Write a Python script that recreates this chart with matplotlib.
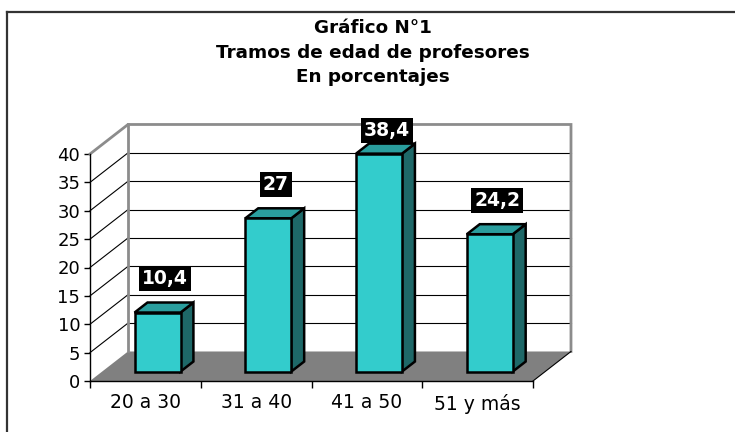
import matplotlib
matplotlib.use('Agg')
import matplotlib.pyplot as plt
from matplotlib.patches import Polygon
from matplotlib.lines import Line2D
import numpy as np

# ── data ──────────────────────────────────────────────────────────────────────
categories = ['20 a 30', '31 a 40', '41 a 50', '51 y más']
values     = [10.4, 27, 38.4, 24.2]
labels     = ['10,4', '27', '38,4', '24,2']
yticks     = [0, 5, 10, 15, 20, 25, 30, 35, 40]
title      = "Gráfico N°1\nTramos de edad de profesores\nEn porcentajes"

# ── styling / 3D projection ───────────────────────────────────────────────────
FRONT  = '#33CCCC'
TOP    = '#2A9E9E'
SIDE   = '#1E6868'
FLOOR  = '#808080'
WALL   = '#8C8C8C'
DX, DY = 0.343, 5.2          # depth vector (categories, value units)
BAR_W  = 0.415
F0, F1 = 0.32, 0.66          # bar front / back position along depth

plt.rcParams['font.family'] = ['DejaVu Sans']

W, H = 735, 432
fig = plt.figure(figsize=(W / 100, H / 100), dpi=100)
fig.patch.set_facecolor('white')

# outer frame (left + top)
fig.add_artist(Line2D([7 / W, 7 / W], [0, 1 - 12 / H], color='#333333', lw=1.6))
fig.add_artist(Line2D([7 / W, 1], [1 - 12 / H, 1 - 12 / H], color='#333333', lw=1.6))

fig.text(373 / W, 1 - 52.5 / H, title, ha='center', va='center',
         fontsize=13.2, fontweight='bold', linespacing=1.45)

ax = fig.add_axes([90 / W, (H - 381) / H, (533 - 90) / W, (381 - 154) / H])
n = len(categories)
x = np.arange(n)
xmin, xmax = -0.5, n - 0.5
ymax = yticks[-1]
ax.set_xlim(xmin, xmax)
ax.set_ylim(0, ymax)
ax.patch.set_alpha(0)

# floor
ax.add_patch(Polygon([(xmin, 0), (xmax, 0), (xmax + DX, DY), (xmin + DX, DY)],
                     closed=True, facecolor=FLOOR, edgecolor='none',
                     clip_on=False, zorder=1))
ax.plot([xmax, xmax + DX], [0, DY], color='black', lw=0.8, clip_on=False, zorder=2)

# back wall + left wall
for v in yticks[1:-1]:
    ax.plot([xmin + DX, xmax + DX], [v + DY, v + DY], color='black', lw=0.8,
            clip_on=False, zorder=1.5)
    ax.plot([xmin, xmin + DX], [v, v + DY], color='black', lw=0.8,
            clip_on=False, zorder=1.5)
ax.plot([xmin, xmin + DX, xmax + DX, xmax + DX],
        [ymax, ymax + DY, ymax + DY, DY], color=WALL, lw=2.0,
        clip_on=False, zorder=1.6, solid_joinstyle='miter')
ax.plot([xmin + DX, xmin + DX], [DY, ymax + DY], color=WALL, lw=2.0,
        clip_on=False, zorder=1.6)

# bars
for xi, v, lab in zip(x, values, labels):
    x0 = xi - BAR_W / 2 + F0 * DX
    x1 = xi + BAR_W / 2 + F0 * DX
    y0 = F0 * DY
    y1 = y0 + v
    bx, by = (F1 - F0) * DX, (F1 - F0) * DY
    kw = dict(closed=True, edgecolor='black', lw=1.8, clip_on=False,
              joinstyle='miter', zorder=3)
    ax.add_patch(Polygon([(x1, y0), (x1 + bx, y0 + by), (x1 + bx, y1 + by), (x1, y1)],
                         facecolor=SIDE, **kw))
    ax.add_patch(Polygon([(x0, y1), (x1, y1), (x1 + bx, y1 + by), (x0 + bx, y1 + by)],
                         facecolor=TOP, **kw))
    ax.add_patch(Polygon([(x0, y0), (x1, y0), (x1, y1), (x0, y1)],
                         facecolor=FRONT, **kw))
    ly = min(v + 0.49 * DY + 5.1, 44.2)
    ax.text(xi + 0.52 * DX, ly, lab, ha='center', va='center', color='white',
            fontsize=13.5, fontweight='bold', zorder=5, clip_on=False,
            bbox=dict(boxstyle='square,pad=0.16', facecolor='black',
                      edgecolor='none'))

# axes
for s in ['top', 'right']:
    ax.spines[s].set_visible(False)
for s in ['left', 'bottom']:
    ax.spines[s].set_color('black')
    ax.spines[s].set_linewidth(1.0)
    ax.spines[s].set_zorder(2.5)
ax.set_yticks(yticks)
ax.set_yticklabels([str(t) for t in yticks])
ax.tick_params(axis='y', length=4, width=1, pad=3, labelsize=13)
ax.set_xticks(np.arange(n + 1) - 0.5)
ax.set_xticklabels([])
ax.tick_params(axis='x', which='major', length=5, width=1)
ax.set_xticks(x, minor=True)
ax.set_xticklabels(categories, minor=True)
ax.tick_params(axis='x', which='minor', length=0, pad=9, labelsize=13.5)

fig.savefig('out.png', dpi=100, facecolor='white')
